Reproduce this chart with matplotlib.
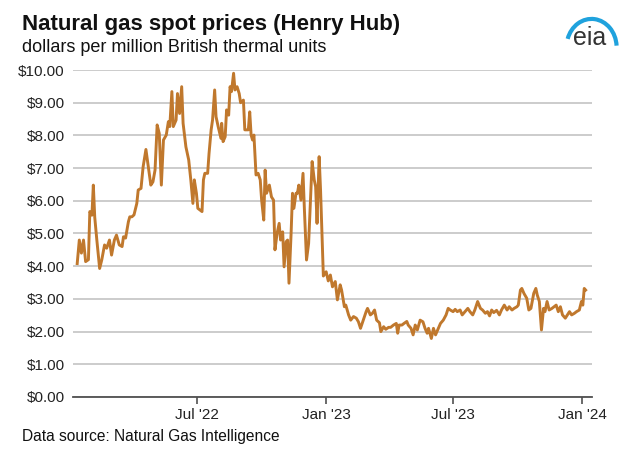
import numpy as np
import pandas as pd
import matplotlib
matplotlib.use("Agg")
import matplotlib.pyplot as plt
import matplotlib.dates as mdates
from matplotlib.patches import Arc

plt.rcParams['font.family'] = ['Liberation Sans', 'DejaVu Sans']

# Henry Hub spot price
dates = [
    "2022-01-11", "2022-01-14", "2022-01-17", "2022-01-20", "2022-01-23", "2022-01-27",
    "2022-01-29", "2022-02-01", "2022-02-03", "2022-02-05", "2022-02-08", "2022-02-12",
    "2022-02-15", "2022-02-19", "2022-02-22", "2022-02-26", "2022-03-01", "2022-03-05",
    "2022-03-08", "2022-03-12", "2022-03-16", "2022-03-18", "2022-03-21", "2022-03-25",
    "2022-03-27", "2022-03-30", "2022-04-02", "2022-04-06", "2022-04-08", "2022-04-12",
    "2022-04-15", "2022-04-19", "2022-04-23", "2022-04-26", "2022-04-29", "2022-05-02",
    "2022-05-05", "2022-05-08", "2022-05-11", "2022-05-14", "2022-05-18", "2022-05-21",
    "2022-05-23", "2022-05-26", "2022-05-28", "2022-06-01", "2022-06-03", "2022-06-06",
    "2022-06-09", "2022-06-11", "2022-06-15", "2022-06-19", "2022-06-22", "2022-06-25",
    "2022-06-27", "2022-06-30", "2022-07-02", "2022-07-05", "2022-07-08", "2022-07-10",
    "2022-07-12", "2022-07-16", "2022-07-18", "2022-07-21", "2022-07-23", "2022-07-26",
    "2022-07-28", "2022-07-31", "2022-08-04", "2022-08-05", "2022-08-07", "2022-08-10",
    "2022-08-12", "2022-08-15", "2022-08-17", "2022-08-19", "2022-08-22", "2022-08-24",
    "2022-08-27", "2022-08-30", "2022-09-01", "2022-09-05", "2022-09-07", "2022-09-12",
    "2022-09-14", "2022-09-16", "2022-09-18", "2022-09-20", "2022-09-23", "2022-09-26",
    "2022-09-29", "2022-10-01", "2022-10-04", "2022-10-06", "2022-10-08", "2022-10-12",
    "2022-10-15", "2022-10-18", "2022-10-20", "2022-10-23", "2022-10-26", "2022-10-28",
    "2022-10-31", "2022-11-02", "2022-11-05", "2022-11-07", "2022-11-09", "2022-11-12",
    "2022-11-14", "2022-11-16", "2022-11-19", "2022-11-21", "2022-11-23", "2022-11-26",
    "2022-11-29", "2022-12-01", "2022-12-04", "2022-12-07", "2022-12-09", "2022-12-12",
    "2022-12-15", "2022-12-17", "2022-12-19", "2022-12-22", "2022-12-24", "2022-12-28",
    "2023-01-01", "2023-01-04", "2023-01-07", "2023-01-10", "2023-01-14", "2023-01-17",
    "2023-01-21", "2023-01-23", "2023-01-27", "2023-01-29", "2023-02-02", "2023-02-05",
    "2023-02-09", "2023-02-13", "2023-02-16", "2023-02-19", "2023-02-23", "2023-02-27",
    "2023-03-01", "2023-03-05", "2023-03-08", "2023-03-11", "2023-03-14", "2023-03-18",
    "2023-03-20", "2023-03-24", "2023-03-27", "2023-03-31", "2023-04-03", "2023-04-07",
    "2023-04-11", "2023-04-13", "2023-04-15", "2023-04-19", "2023-04-22", "2023-04-26",
    "2023-04-28", "2023-05-02", "2023-05-05", "2023-05-08", "2023-05-11", "2023-05-15",
    "2023-05-19", "2023-05-22", "2023-05-25", "2023-05-27", "2023-05-31", "2023-06-03",
    "2023-06-06", "2023-06-10", "2023-06-13", "2023-06-17", "2023-06-21", "2023-06-24",
    "2023-06-27", "2023-07-01", "2023-07-04", "2023-07-07", "2023-07-11", "2023-07-14",
    "2023-07-18", "2023-07-22", "2023-07-25", "2023-07-29", "2023-08-01", "2023-08-05",
    "2023-08-09", "2023-08-12", "2023-08-16", "2023-08-19", "2023-08-22", "2023-08-25",
    "2023-08-28", "2023-09-01", "2023-09-05", "2023-09-08", "2023-09-12", "2023-09-16",
    "2023-09-19", "2023-09-23", "2023-09-26", "2023-09-30", "2023-10-02", "2023-10-05",
    "2023-10-07", "2023-10-10", "2023-10-14", "2023-10-17", "2023-10-20", "2023-10-24",
    "2023-10-27", "2023-10-29", "2023-11-01", "2023-11-04", "2023-11-07", "2023-11-09",
    "2023-11-12", "2023-11-15", "2023-11-19", "2023-11-22", "2023-11-25", "2023-11-28",
    "2023-12-01", "2023-12-04", "2023-12-08", "2023-12-11", "2023-12-14", "2023-12-17",
    "2023-12-21", "2023-12-24", "2023-12-28", "2023-12-31", "2024-01-02", "2024-01-04",
    "2024-01-06",
]
prices = [
    4.08, 4.80, 4.40, 4.80, 4.14, 4.20,
    5.67, 5.56, 6.48, 5.50, 4.80, 3.93,
    4.19, 4.65, 4.55, 4.80, 4.34, 4.80,
    4.95, 4.65, 4.60, 4.90, 4.86, 5.36,
    5.51, 5.51, 5.57, 5.92, 6.33, 6.38,
    7.04, 7.57, 6.94, 6.48, 6.58, 6.94,
    8.32, 8.06, 6.48, 7.86, 8.01, 8.42,
    8.27, 9.34, 8.27, 8.47, 9.28, 8.67,
    9.49, 8.37, 7.65, 7.25, 6.64, 5.92,
    6.64, 6.23, 5.77, 5.72, 5.67, 6.64,
    6.84, 6.84, 7.45, 8.17, 8.47, 9.39,
    8.57, 8.27, 7.91, 8.37, 7.81, 7.96,
    8.78, 8.62, 9.49, 9.34, 9.90, 9.39,
    9.49, 9.28, 9.00, 9.08, 8.17, 8.17,
    8.72, 8.01, 7.86, 8.01, 6.79, 6.84,
    6.64, 6.02, 5.41, 6.94, 6.23, 6.48,
    6.12, 6.02, 4.50, 5.00, 5.31, 4.80,
    5.05, 3.98, 4.75, 4.80, 3.48, 5.00,
    6.23, 5.77, 6.23, 6.23, 6.48, 6.02,
    6.84, 5.72, 4.19, 4.70, 5.72, 7.20,
    6.64, 6.43, 5.31, 7.35, 6.33, 3.70,
    3.83, 3.55, 3.73, 3.37, 3.53, 2.97,
    3.43, 3.27, 2.76, 2.81, 2.51, 2.35,
    2.46, 2.41, 2.30, 2.10, 2.35, 2.61,
    2.71, 2.51, 2.56, 2.66, 2.35, 2.27,
    2.00, 2.15, 2.07, 2.13, 2.13, 2.20,
    2.25, 1.95, 2.20, 2.20, 2.25, 2.31,
    2.20, 2.10, 1.90, 2.20, 2.05, 2.35,
    2.30, 2.10, 1.95, 2.10, 1.79, 2.10,
    1.90, 2.10, 2.25, 2.35, 2.51, 2.71,
    2.66, 2.61, 2.68, 2.61, 2.66, 2.51,
    2.61, 2.71, 2.61, 2.51, 2.66, 2.92,
    2.71, 2.66, 2.56, 2.61, 2.48, 2.66,
    2.58, 2.65, 2.51, 2.66, 2.81, 2.66,
    2.76, 2.66, 2.71, 2.76, 2.81, 3.27,
    3.32, 3.17, 3.02, 2.66, 2.71, 3.17,
    3.32, 3.12, 2.92, 2.05, 2.71, 2.61,
    2.92, 2.66, 2.71, 2.76, 2.81, 2.61,
    2.76, 2.51, 2.41, 2.51, 2.61, 2.51,
    2.56, 2.61, 2.66, 2.92, 2.81, 3.32,
    3.27,
]
tick_dates = ["2022-07-01", "2023-01-01", "2023-07-01", "2024-01-01"]
tick_labels = ["Jul '22", "Jan '23", "Jul '23", "Jan '24"]
y_ticks = [0, 1, 2, 3, 4, 5, 6, 7, 8, 9, 10]

line_color = '#C0782D'
text_color = '#222222'

fig = plt.figure(figsize=(6.26, 4.73), dpi=100)
ax = fig.add_axes([0.1166, 0.1607, 0.829, 0.6913])

ax.plot(pd.to_datetime(dates), prices, color=line_color, linewidth=2.1,
        solid_joinstyle='round', zorder=3)

ax.set_ylim(0, 10)
ax.set_xlim(pd.Timestamp("2022-01-05"), pd.Timestamp("2024-01-15"))
ax.set_yticks(y_ticks)
ax.set_yticklabels(['$%.2f' % v for v in y_ticks])
ax.set_xticks(pd.to_datetime(tick_dates))
ax.set_xticklabels(tick_labels)

ax.grid(axis='y', color='#c8c8c8', linewidth=1.3, zorder=1)
for s in ['top', 'right', 'left']:
    ax.spines[s].set_visible(False)
ax.spines['bottom'].set_color('#505050')
ax.spines['bottom'].set_linewidth(1.3)
ax.spines['bottom'].set_zorder(4)
ax.tick_params(axis='y', length=0, pad=6, labelsize=11, labelcolor=text_color)
ax.tick_params(axis='x', length=5, width=1.2, color='#505050', pad=3,
               labelsize=11, labelcolor=text_color)

fig.text(0.035, 0.937, "Natural gas spot prices (Henry Hub)", fontsize=16,
         fontweight='bold', color='#111111', va='baseline')
fig.text(0.035, 0.89, "dollars per million British thermal units", fontsize=13,
         color='#111111', va='baseline')
fig.text(0.035, 0.067, "Data source: Natural Gas Intelligence", fontsize=11.2,
         color='#111111', va='baseline')

# eia logo
fig.text(0.942, 0.905, "eia", fontsize=18, color='#333333', ha='center',
         va='baseline')
logo_ax = fig.add_axes([0.895, 0.89, 0.1, 0.1])
logo_ax.set_xlim(0, 1)
logo_ax.set_ylim(0, 1)
logo_ax.axis('off')
logo_ax.add_patch(Arc((0.5, 0.1), 0.8, 1.2, theta1=5, theta2=155,
                      color='#1fa2dd', linewidth=3))

fig.savefig("out.png", dpi=100)
